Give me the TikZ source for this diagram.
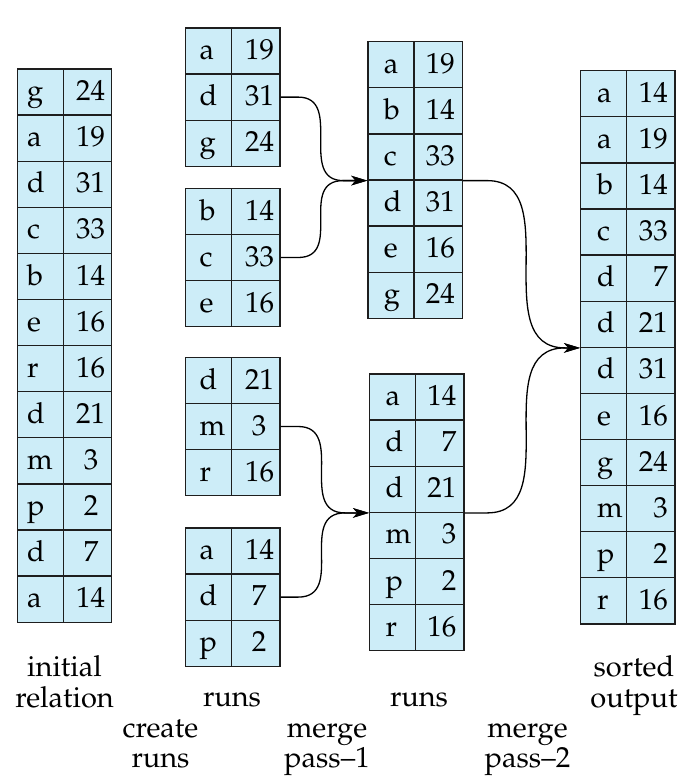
\documentclass[tikz,border=0pt]{standalone}
\usepackage[T1]{fontenc}
\usepackage{mathpazo}
\usetikzlibrary{arrows.meta}
\definecolor{cellfill}{RGB}{205,237,248}
\definecolor{cellline}{RGB}{30,30,30}
\tikzset{
  cell/.style={draw=cellline, line width=0.65pt, fill=cellfill, inner ysep=0pt,
    anchor=north west, minimum height=23.05pt, text height=12.5pt, text depth=3.9pt,
    font=\fontsize{14.5}{15.3}\selectfont},
  lab/.style={font=\fontsize{14.5}{15.3}\selectfont, anchor=base, inner sep=0pt},
  conn/.style={line width=0.65pt, draw=black, -{Stealth[length=8pt,width=4.8pt,inset=2.2pt]}},
}
% name, xleft(px), ytop(px), left pad (pt), right pad (pt), entries
\newcommand{\runtable}[6]{%
  \pgfmathsetmacro{\twl}{23-2*#4}%
  \pgfmathsetmacro{\twr}{24.15-2*#5}%
  \foreach \l/\n [count=\i] in {#6} {
    \node[cell, inner xsep=#4pt, text width=\twl pt, align=left]
      (#1l\i) at (#2, {#3+(\i-1)*46.1}) {\l};
    \node[cell, inner xsep=#5pt, text width=\twr pt, align=right]
      (#1r\i) at ({#2+46}, {#3+(\i-1)*46.1}) {\n};
  }%
}
\begin{document}
\begin{tikzpicture}[x=0.5pt, y=-0.5pt]
\useasboundingbox (0,0) rectangle (694,783);

\runtable{ini}{16.5}{68.3}{5}{6.5}{g/24, a/19, d/31, c/33, b/14, e/16, r/16, d/21, m/3, p/2, d/7, a/14}
\runtable{ra}{185}{27.3}{7}{6.75}{a/19, d/31, g/24}
\runtable{rb}{185}{187.7}{7}{6.75}{b/14, c/33, e/16}
\runtable{rc}{185}{356.7}{7}{6.75}{d/21, m/3, r/16}
\runtable{rd}{185}{527.3}{7}{6.75}{a/14, d/7, p/2}
\runtable{oa}{367.3}{41}{8}{3.75}{a/19, b/14, c/33, d/31, e/16, g/24}
\runtable{ob}{369}{373.3}{8}{3.75}{a/14, d/7, d/21, m/3, p/2, r/16}
\runtable{so}{580}{70}{8.25}{3.5}{a/14, a/19, b/14, c/33, d/7, d/21, d/31, e/16, g/24, m/3, p/2, r/16}

% merge pass 1
\draw[conn] (rar2.east) -- ++(17.5,0) .. controls +(46,0) and +(-46,0) .. ([xshift=-12pt]oal3.south west) -- (oal3.south west);
\draw[conn] (rbr2.east) -- ++(17.5,0) .. controls +(46,0) and +(-46,0) .. ([xshift=-12pt]oal3.south west) -- (oal3.south west);
\draw[conn] (rcr2.east) -- ++(17.5,0) .. controls +(48,0) and +(-48,0) .. ([xshift=-12pt]obl3.south west) -- (obl3.south west);
\draw[conn] (rdr2.east) -- ++(17.5,0) .. controls +(48,0) and +(-48,0) .. ([xshift=-12pt]obl3.south west) -- (obl3.south west);
% merge pass 2
\draw[conn] (oar3.south east) -- ++(24.3,0) .. controls +(79,0) and +(-79,0) .. ([xshift=-7.5pt]sol6.south west) -- (sol6.south west);
\draw[conn] (obr3.south east) -- ++(22.7,0) .. controls +(79,0) and +(-79,0) .. ([xshift=-7.5pt]sol6.south west) -- (sol6.south west);

% labels
\node[lab] (l1a) at (64.5,676.7) {initial};
\node[lab] (l1b) at (64.5,707.3) {relation};
\node[lab] (l2) at (232,706) {runs};
\node[lab] (l3) at (419,706) {runs};
\node[lab] (l4a) at (634,676.7) {sorted};
\node[lab] (l4b) at (634,707.3) {output};
\node[lab] (l5a) at (160.5,737) {create};
\node[lab] (l5b) at (160.5,767.7) {runs};
\node[lab] (l6a) at (327,737) {merge};
\node[lab] (l6b) at (327,767.7) {pass--1};
\node[lab] (l7a) at (527.5,737) {merge};
\node[lab] (l7b) at (527.5,767.7) {pass--2};
\end{tikzpicture}
\end{document}
